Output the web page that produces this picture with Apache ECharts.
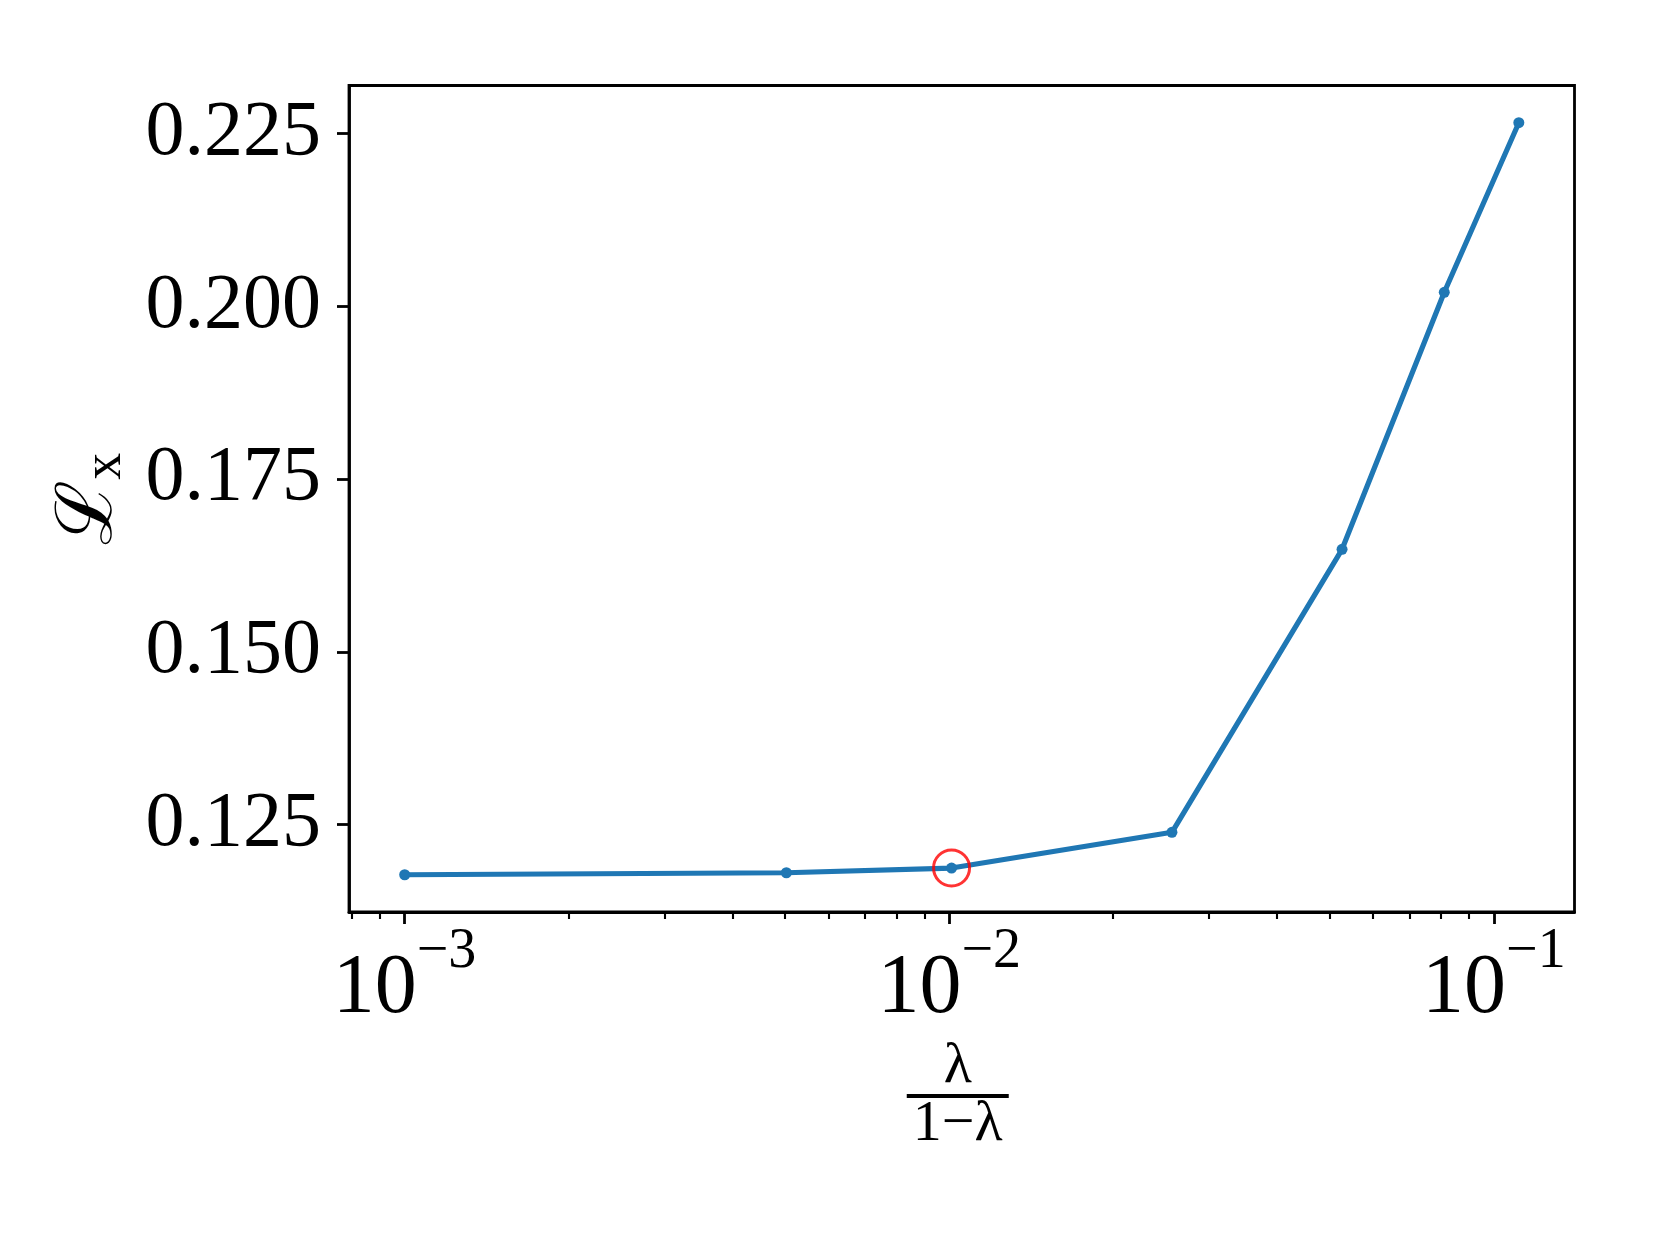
<!DOCTYPE html>
<html>
<head>
<meta charset="utf-8">
<title>Lx vs lambda</title>
<script src="https://cdn.jsdelivr.net/npm/echarts@6.0.0/dist/echarts.min.js"></script>
<style>
  html, body { margin: 0; padding: 0; background: #fff; }
  #chart { width: 1660px; height: 1245px; }
</style>
</head>
<body>
<div id="chart"></div>
<script>
// 数据: 横轴为 λ/(1-λ), 纵轴为 Lx
const ratioValues = [0.001001, 0.005025, 0.010101, 0.025641, 0.052632, 0.081081, 0.111111]
const lossValues = [0.11775, 0.11804, 0.11872, 0.12389, 0.16483, 0.20201, 0.22655]
// 红圈标出的点
const markedIndex = 2

// 刻度
const yTicks = [0.125, 0.150, 0.175, 0.200, 0.225]
const xMajorTicks = [0.001, 0.01, 0.1]
const xMinorTicks = [0.0008, 0.0009,
  0.002, 0.003, 0.004, 0.005, 0.006, 0.007, 0.008, 0.009,
  0.02, 0.03, 0.04, 0.05, 0.06, 0.07, 0.08, 0.09]

// 坐标轴范围
const xMin = 0.000791
const xMax = 0.1406
const yMin = 0.11236
const yMax = 0.23193

const serif = "'Liberation Serif', 'DejaVu Serif', serif"

const chart = echarts.init(document.getElementById('chart'))

const option = {
  animation: false,
  backgroundColor: '#fff',
  grid: {
    left: 349,
    right: 85.5,
    top: 85.5,
    bottom: 333,
    show: true,
    borderColor: '#000',
    borderWidth: 2.8,
    backgroundColor: 'transparent'
  },
  xAxis: [
    {
      type: 'log',
      logBase: 10,
      min: xMin,
      max: xMax,
      splitLine: { show: false },
      axisLine: { show: true, onZero: false, lineStyle: { color: '#000', width: 2.8 } },
      axisTick: {
        show: true,
        length: 12,
        customValues: xMajorTicks,
        lineStyle: { color: '#000', width: 2.8 }
      },
      axisLabel: {
        customValues: xMajorTicks,
        margin: 12,
        formatter: v => '{b|10}{s|\u2212' + Math.abs(Math.round(Math.log10(v))) + '}',
        rich: {
          b: { fontSize: 84, fontFamily: serif, color: '#000' },
          s: { fontSize: 56, fontFamily: serif, color: '#000', padding: [0, 0, 76, 0] }
        }
      },
      name: '{n|λ}\n{bar|}\n{d|1\u2212λ}',
      nameLocation: 'middle',
      nameGap: 128,
      nameTextStyle: {
        align: 'center',
        padding: [0, 8, 0, 0],
        rich: {
          n: { fontSize: 58, fontFamily: serif, color: '#000', align: 'center', lineHeight: 54 },
          bar: { width: 102, height: 4, backgroundColor: '#000', align: 'center' },
          d: { fontSize: 58, fontFamily: serif, color: '#000', align: 'center', lineHeight: 54 }
        }
      }
    },
    {
      // 次刻度
      type: 'log',
      logBase: 10,
      min: xMin,
      max: xMax,
      position: 'bottom',
      splitLine: { show: false },
      axisLine: { show: false },
      axisLabel: { show: false },
      axisTick: {
        show: true,
        length: 7,
        customValues: xMinorTicks,
        lineStyle: { color: '#000', width: 2.1 }
      }
    }
  ],
  yAxis: {
    type: 'value',
    min: yMin,
    max: yMax,
    splitLine: { show: false },
    axisLine: { show: true, onZero: false, lineStyle: { color: '#000', width: 2.8 } },
    axisTick: {
      show: true,
      length: 12,
      customValues: yTicks,
      lineStyle: { color: '#000', width: 2.8 }
    },
    axisLabel: {
      customValues: yTicks,
      margin: 28,
      fontSize: 78,
      fontFamily: serif,
      color: '#000',
      formatter: v => v.toFixed(3)
    },
    name: '{L|\u2112}{x|x}',
    nameLocation: 'middle',
    nameRotate: 90,
    nameGap: 216,
    nameTextStyle: {
      rich: {
        L: { fontSize: 78, fontFamily: serif, color: '#000' },
        x: { fontSize: 54, fontFamily: serif, color: '#000', padding: [30, 0, 0, 0] }
      }
    }
  },
  series: [
    {
      type: 'line',
      data: ratioValues.map((x, i) => [x, lossValues[i]]),
      symbol: 'circle',
      symbolSize: 11,
      showAllSymbol: true,
      lineStyle: { color: '#1f77b4', width: 5.2 },
      itemStyle: { color: '#1f77b4' },
      z: 2
    },
    {
      type: 'scatter',
      data: [[ratioValues[markedIndex], lossValues[markedIndex]]],
      symbol: 'circle',
      symbolSize: 36,
      itemStyle: { color: 'transparent', borderColor: '#ff0000', borderWidth: 3 },
      z: 3
    }
  ]
}

chart.setOption(option)
</script>
</body>
</html>
